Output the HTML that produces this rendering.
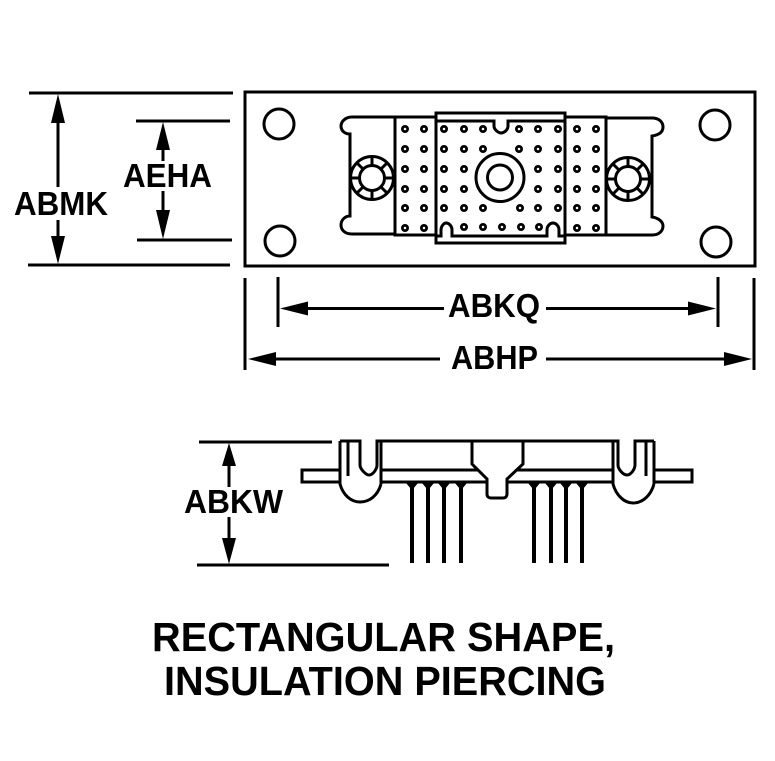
<!DOCTYPE html>
<html>
<head>
<meta charset="utf-8">
<style>
html,body{margin:0;padding:0;background:#fff;}
svg{display:block;}
text{font-family:"Liberation Sans",Arial,sans-serif;font-weight:bold;fill:#000;}
</style>
</head>
<body>
<svg width="775" height="761" viewBox="0 0 775 761" xmlns="http://www.w3.org/2000/svg">
<g fill="none" stroke="#000" stroke-width="3">
  <!-- top view body -->
  <rect x="245" y="92" width="510" height="174"/>
  <circle cx="279" cy="124" r="15"/>
  <circle cx="715" cy="125" r="15"/>
  <circle cx="280" cy="241" r="15"/>
  <circle cx="716" cy="242" r="15"/>

  <!-- left flange -->
  <path d="M396 117H352C345 117 341 122 341 126C341 131 345 134 350 134V216C345 216 341 220 341 225C341 230 345 234 352 234H396"/>
  <!-- right flange -->
  <path d="M606 118H652C659 118 663 122 663 127C663 132 659 135 652 136V217C659 218 663 222 663 226C663 231 659 235 652 235H606"/>
  <rect x="395" y="117" width="211" height="118"/>
  <!-- centre block -->
  <rect x="436" y="113" width="129" height="130" fill="#fff"/>
  <path d="M436 121H494V126C494 130 499 133 501 133C504 133 508 130 508 126V121H565"/>
  <path d="M436 236H441V230C441 226 444 223 446 223C449 223 452 226 452 230V236H547V230C547 226 550 223 553 223C556 223 559 226 559 230V236H565"/>
  <circle cx="500" cy="177.5" r="24"/>
  <circle cx="500" cy="177.5" r="12.5"/>

  <!-- left screw -->
  <circle cx="372" cy="178" r="21.5"/>
  <circle cx="372" cy="178" r="12.5"/>
  <path d="M372 156V165M372 191V200M350 178H359M385 178H394M357 163L363 169M381 187L387 193M387 163L381 169M363 187L357 193"/>
  <!-- right screw -->
  <circle cx="628" cy="179" r="21.5"/>
  <circle cx="628" cy="179" r="12.5"/>
  <path d="M628 157V166M628 192V201M606 179H615M641 179H650M613 164L619 170M637 188L643 194M643 164L637 170M619 188L613 194"/>

  <!-- dimension lines top view -->
  <path d="M29 93H233M28 265H230M136 121H230M137 240H232"/>
  <path d="M58 118V187M58 220V240M163 140V161M163 191V214"/>
  <path d="M245 278V370M754 278V370M278 277V327M718 277V327"/>
  <path d="M300 308.5H444M546 308.5H696M268 359H440M546 359H733"/>

  <!-- side view -->
  <path d="M199 442H332M197 565H389"/>
  <path d="M229 460V487M229 517V542"/>
  <path d="M340 441H360V465C360 469 366 475 369 475C373 475 377 469 377 465V441H618V465C618 469 623 475 627 475C631 475 635 469 635 465V441H654"/>
  <path d="M472 441V464L487 479V494C487 497 489 498 491 498H503C506 498 507 496 507 494V479L523 464V441"/>
  <path d="M348 441V476M381 441V484M340 441V484C343 495 351 502 360 502C370 502 378 495 381 484"/>
  <path d="M646 441V476M654 441V484M613 441V484C616 495 624 503 633 503C643 503 651 495 654 484"/>
  <path d="M340 470H302V482H340M654 470H692V482H654"/>
  <path d="M381 470H478M381 482H487M507 482H613M516 470H613"/>
</g>

<!-- pins -->
<g fill="none" stroke="#000" stroke-width="4">
  <path d="M412 485V563M428 485V563M444 485V563M461 485V563M534 485V563M551 485V563M566 485V563M582 485V563"/>
</g>
<g fill="#000">
  <path d="M406 483H418L413 489H411ZM422 483H434L429 489H427ZM438 483H450L445 489H443ZM455 483H467L462 489H460ZM528 483H540L535 489H533ZM545 483H557L552 489H550ZM560 483H572L567 489H565ZM576 483H588L583 489H581Z"/>
  <!-- arrowheads -->
  <path d="M58 94L51 123H65Z"/>
  <path d="M58 264L51 236H65Z"/>
  <path d="M163 122L156 150H170Z"/>
  <path d="M163 239L156 210H170Z"/>
  <path d="M280 308.5L308 301.5V315.5Z"/>
  <path d="M716 308.5L688 301.5V315.5Z"/>
  <path d="M248 359L276 352V366Z"/>
  <path d="M752 359L724 352V366Z"/>
  <path d="M229 443L222 466H236Z"/>
  <path d="M229 564L222 538H236Z"/>
</g>

<!-- contact dots -->
<path fill="none" stroke="#000" stroke-width="8" stroke-linecap="round" d="M405 129h0M424 129h0M444 129h0M464 129h0M483 129h0M519 129h0M538 129h0M558 129h0M577 129h0M596 129h0M405 149h0M424 149h0M444 149h0M464 149h0M483 149h0M519 149h0M538 149h0M558 149h0M577 149h0M596 149h0M405 169h0M424 169h0M444 169h0M464 169h0M538 169h0M558 169h0M577 169h0M596 169h0M405 189h0M424 189h0M444 189h0M464 189h0M538 189h0M558 189h0M577 189h0M596 189h0M405 208h0M424 208h0M444 208h0M464 208h0M483 208h0M520 208h0M538 208h0M558 208h0M577 208h0M596 208h0M405 228h0M424 228h0M464 227h0M483 227h0M502 227h0M521 227h0M539 227h0M577 228h0M596 228h0"/>
<path fill="none" stroke="#fff" stroke-width="2.5" stroke-linecap="round" d="M405 129h0M424 129h0M444 129h0M464 129h0M483 129h0M519 129h0M538 129h0M558 129h0M577 129h0M596 129h0M405 149h0M424 149h0M444 149h0M464 149h0M483 149h0M519 149h0M538 149h0M558 149h0M577 149h0M596 149h0M405 169h0M424 169h0M444 169h0M464 169h0M538 169h0M558 169h0M577 169h0M596 169h0M405 189h0M424 189h0M444 189h0M464 189h0M538 189h0M558 189h0M577 189h0M596 189h0M405 208h0M424 208h0M444 208h0M464 208h0M483 208h0M520 208h0M538 208h0M558 208h0M577 208h0M596 208h0M405 228h0M424 228h0M464 227h0M483 227h0M502 227h0M521 227h0M539 227h0M577 228h0M596 228h0"/>

<!-- labels -->
<g font-size="33">
  <text x="14" y="215" textLength="94" lengthAdjust="spacingAndGlyphs">ABMK</text>
  <text x="123" y="187" textLength="89" lengthAdjust="spacingAndGlyphs">AEHA</text>
  <text x="448" y="317" textLength="92" lengthAdjust="spacingAndGlyphs">ABKQ</text>
  <text x="451" y="369" textLength="87" lengthAdjust="spacingAndGlyphs">ABHP</text>
  <text x="184" y="513" textLength="99" lengthAdjust="spacingAndGlyphs">ABKW</text>
</g>
<g font-size="41">
  <text x="152" y="651" textLength="463" lengthAdjust="spacingAndGlyphs">RECTANGULAR SHAPE,</text>
  <text x="164" y="695" textLength="442" lengthAdjust="spacingAndGlyphs">INSULATION PIERCING</text>
</g>
</svg>
</body>
</html>
